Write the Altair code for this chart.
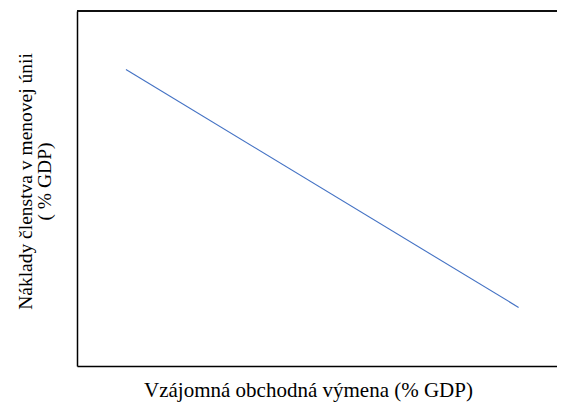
import altair as alt
import pandas as pd

trade = [1.02, 9.2]
cost = [8.35, 1.65]
x_title = "Vzájomná obchodná výmena (% GDP)"
y_title = ["Náklady členstva v menovej únii", "( % GDP)"]

df = pd.DataFrame({"trade": trade, "cost": cost})

W, H = 480, 355
FONT = "Liberation Serif"

line = alt.Chart(df).mark_line(color="#4472C4", strokeWidth=1.1).encode(
    x=alt.X("trade:Q", scale=alt.Scale(domain=[0, 10], nice=False),
            axis=alt.Axis(title=x_title, labels=False, ticks=False, grid=False,
                          titleFontSize=21, titlePadding=13, titleX=231)),
    y=alt.Y("cost:Q", scale=alt.Scale(domain=[0, 10], nice=False),
            axis=alt.Axis(title=y_title, labels=False, ticks=False, grid=False,
                          titleFontSize=19.5, titlePadding=23, titleLineHeight=19,
                          titleY=170)),
)

top = alt.Chart(df).mark_rule(color="black", strokeWidth=1.5).encode(
    x=alt.value(0), x2=alt.value(W), y=alt.value(0)
)

chart = alt.layer(line, top).properties(
    width=W, height=H,
    autosize=alt.AutoSizeParams(type="none"),
    padding={"left": 69, "top": 3, "right": 0, "bottom": 38},
).configure(font=FONT).configure_axis(
    titleFont=FONT, titleFontWeight="normal", titleColor="black",
    domainColor="black", domainWidth=1.5,
).configure_view(stroke="transparent", strokeWidth=0)

chart.save("out.html", embed_options={"renderer": "svg", "actions": False})
